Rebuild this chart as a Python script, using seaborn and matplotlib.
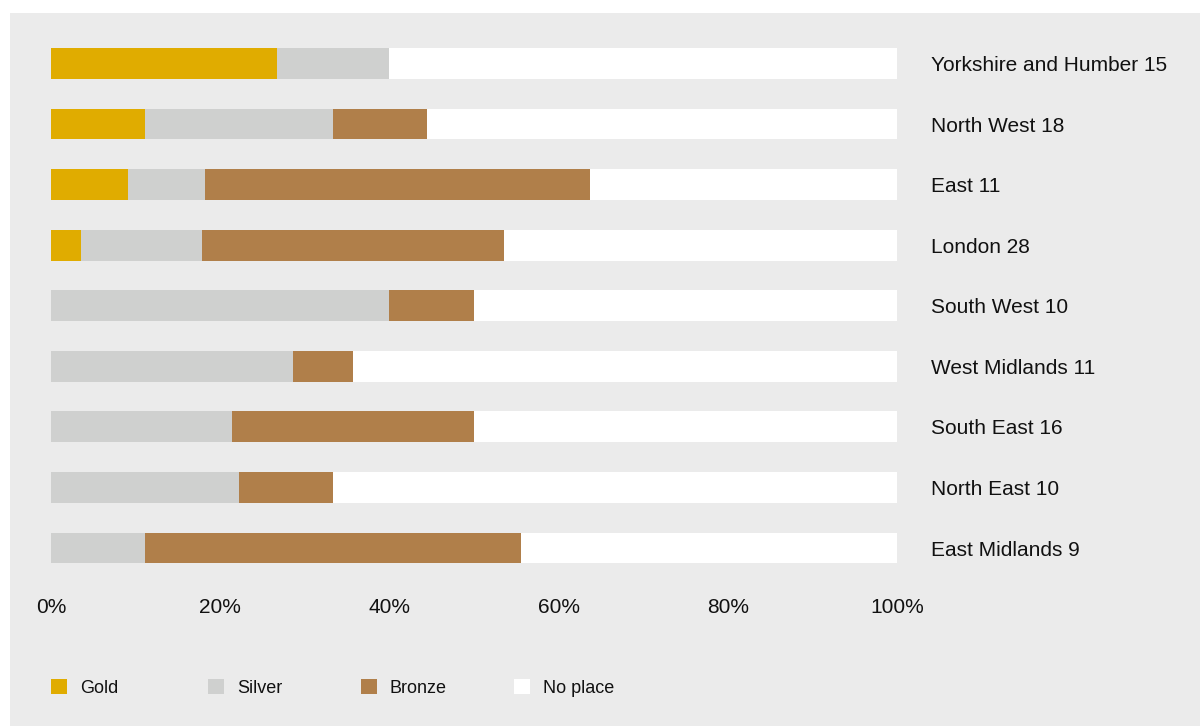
import matplotlib
matplotlib.use("Agg")
import matplotlib.pyplot as plt
from matplotlib.patches import Rectangle, Patch
import numpy as np
import pandas as pd
import seaborn as sns

# ---- data (percent of entries) ----
regions = ["Yorkshire and Humber 15", "North West 18", "East 11", "London 28",
           "South West 10", "West Midlands 11", "South East 16", "North East 10",
           "East Midlands 9"]
gold = [26.7, 11.1, 9.1, 3.6, 0.0, 0.0, 0.0, 0.0, 0.0]
silver = [13.3, 22.2, 9.1, 14.3, 40.0, 28.6, 21.4, 22.2, 11.1]
bronze = [0.0, 11.1, 45.5, 35.7, 10.0, 7.1, 28.6, 11.1, 44.4]
series = ["Gold", "Silver", "Bronze", "No place"]
xticks = [0, 20, 40, 60, 80, 100]
xticklabels = ["0%", "20%", "40%", "60%", "80%", "100%"]

colors = {"Gold": "#e0ac00", "Silver": "#cfd0cf", "Bronze": "#b07f4a", "No place": "#ffffff"}
panel = "#ebebeb"

df = pd.DataFrame({"region": regions, "Gold": gold, "Silver": silver, "Bronze": bronze})
df["No place"] = 100 - df["Gold"] - df["Silver"] - df["Bronze"]
df["c_gold"] = df["Gold"]
df["c_silver"] = df["c_gold"] + df["Silver"]
df["c_bronze"] = df["c_silver"] + df["Bronze"]
df["c_none"] = df["c_bronze"] + df["No place"]

sns.set_theme(style="white")
plt.rcParams["font.family"] = ["Liberation Sans", "DejaVu Sans"]

W, H = 1200, 726
fig = plt.figure(figsize=(W / 100, H / 100), dpi=100)
fig.patch.set_facecolor("white")
fig.patches.append(Rectangle((10 / W, 0), (W - 10) / W, (H - 13) / H,
                             transform=fig.transFigure, facecolor=panel,
                             edgecolor="none", zorder=-10))

ax = fig.add_axes([51 / W, 1 - 578.3 / H, 846 / W, (578.3 - 33.2) / H])
ax.set_facecolor("none")

for col, name in [("c_none", "No place"), ("c_bronze", "Bronze"),
                  ("c_silver", "Silver"), ("c_gold", "Gold")]:
    sns.barplot(data=df, x=col, y="region", order=regions, orient="h",
                color=colors[name], width=0.51, linewidth=0, saturation=1,
                ax=ax, errorbar=None)

ax.set_xlim(0, 100)
ax.set_ylim(len(regions) - 0.5, -0.5)
ax.set_xticks(xticks)
ax.set_xticklabels(xticklabels)
ax.set_xlabel("")
ax.set_ylabel("")
for s in ax.spines.values():
    s.set_visible(False)
ax.tick_params(axis="x", length=0, pad=14, labelsize=15, labelcolor="#111111")
ax.yaxis.tick_right()
ax.tick_params(axis="y", length=0, pad=24.5, labelsize=15, labelcolor="#111111",
               left=False, labelleft=False, right=False, labelright=True)
for lbl in ax.get_yticklabels():
    lbl.set_horizontalalignment("left")

# legend entries
leg_x = [51, 208, 361, 514]
for name, x in zip(series, leg_x):
    fig.legend(handles=[Patch(facecolor=colors[name], edgecolor="none")], labels=[name],
               loc="center left", bbox_to_anchor=(x / W, 1 - 688 / H),
               frameon=False, fontsize=13, handlelength=0.886, handleheight=0.886,
               handletextpad=0.72, borderpad=0, borderaxespad=0, labelcolor="#111111")

fig.savefig("out.png", dpi=100, facecolor=fig.get_facecolor())
